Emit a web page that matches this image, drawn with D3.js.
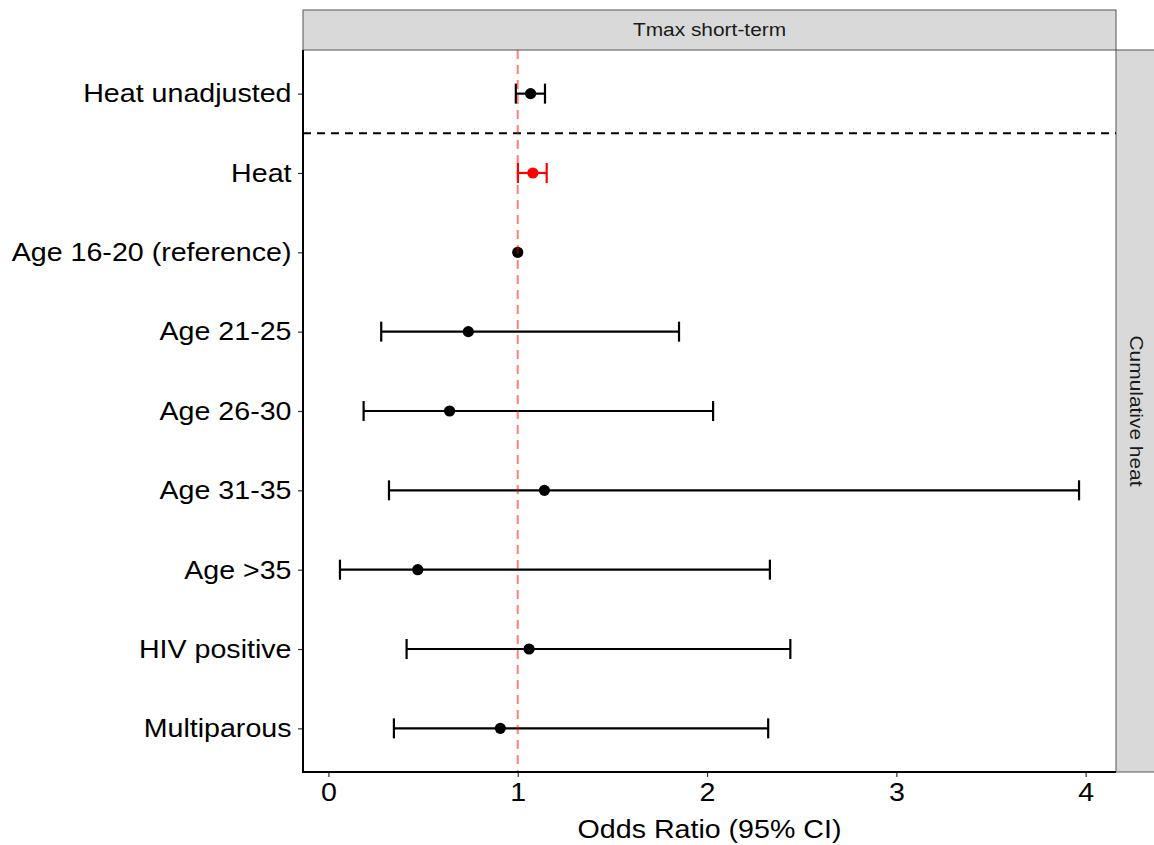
<!DOCTYPE html>
<html>
<head>
<meta charset="utf-8">
<script src="https://cdn.jsdelivr.net/npm/d3@7"></script>
<style>
  body { margin: 0; background: white; }
  svg { display: block; font-family: 'Liberation Sans', Arial, sans-serif; }
</style>
</head>
<body>
<svg width="1154" height="845"></svg>
<script>
// data
const categories = ['Heat unadjusted', 'Heat', 'Age 16-20 (reference)', 'Age 21-25',
  'Age 26-30', 'Age 31-35', 'Age >35', 'HIV positive', 'Multiparous']
const estimates = [1.068, 1.08, 1.0, 0.739, 0.640, 1.141, 0.472, 1.060, 0.908]
const lower = [0.99, 1.001, 1.0, 0.279, 0.186, 0.320, 0.061, 0.413, 0.346]
const upper = [1.144, 1.153, 1.0, 1.852, 2.032, 3.965, 2.332, 2.440, 2.323]
const highlight = ['Heat']
const xTicks = [0, 1, 2, 3, 4]
const refValue = 1
const stripTop = 'Tmax short-term'
const stripRight = 'Cumulative heat'
const xTitle = 'Odds Ratio (95% CI)'

const rows = categories.map((c, i) => ({
  cat: c, est: estimates[i], lo: lower[i], hi: upper[i]
}))

const svg = d3.select('svg')
const panel = { left: 303, right: 1116, top: 50, bottom: 772 }
const stretch = 'scale(1.1,1)' // the source text runs a bit wider than Arial

// ggplot-like 5% expansion
const lo = d3.min(lower), hi = d3.max(upper)
const pad = (hi - lo) * 0.05
const x = d3.scaleLinear()
  .domain([lo - pad, hi + pad])
  .range([panel.left, panel.right])

const y = d3.scalePoint()
  .domain(categories)
  .range([panel.top, panel.bottom])
  .padding(0.55)

// strips
svg.append('rect')
  .attr('x', panel.left).attr('y', 10)
  .attr('width', panel.right - panel.left).attr('height', panel.top - 10)
  .attr('fill', '#d9d9d9').attr('stroke', '#555').attr('stroke-width', 1)
svg.append('g')
  .attr('transform', `translate(${(panel.left + panel.right) / 2},31) ${stretch}`)
  .append('text')
  .attr('text-anchor', 'middle').attr('dominant-baseline', 'middle')
  .attr('font-size', 19).attr('fill', '#1a1a1a')
  .text(stripTop)

svg.append('rect')
  .attr('x', panel.right).attr('y', panel.top)
  .attr('width', 60).attr('height', panel.bottom - panel.top)
  .attr('fill', '#d9d9d9').attr('stroke', '#555').attr('stroke-width', 1)
svg.append('text')
  .attr('transform', `translate(1135,${(panel.top + panel.bottom) / 2}) rotate(90) ${stretch}`)
  .attr('text-anchor', 'middle').attr('dominant-baseline', 'middle')
  .attr('font-size', 19).attr('fill', '#1a1a1a')
  .text(stripRight)

// separator between unadjusted and adjusted rows
const sepY = (y(categories[0]) + y(categories[1])) / 2
svg.append('line')
  .attr('x1', panel.left).attr('x2', panel.right)
  .attr('y1', sepY).attr('y2', sepY)
  .attr('stroke', 'black').attr('stroke-width', 2)
  .attr('stroke-dasharray', '8,6')

// error bars
const colorOf = d => highlight.includes(d.cat) ? 'red' : 'black'
const capH = 10
const bars = svg.append('g').selectAll('g')
  .data(rows.filter(d => d.hi > d.lo))
  .join('g')
  .attr('stroke', colorOf).attr('stroke-width', 2.2)
bars.append('line')
  .attr('x1', d => x(d.lo)).attr('x2', d => x(d.hi))
  .attr('y1', d => y(d.cat)).attr('y2', d => y(d.cat))
bars.append('line')
  .attr('x1', d => x(d.lo)).attr('x2', d => x(d.lo))
  .attr('y1', d => y(d.cat) - capH).attr('y2', d => y(d.cat) + capH)
bars.append('line')
  .attr('x1', d => x(d.hi)).attr('x2', d => x(d.hi))
  .attr('y1', d => y(d.cat) - capH).attr('y2', d => y(d.cat) + capH)

svg.append('g').selectAll('circle')
  .data(rows)
  .join('circle')
  .attr('cx', d => x(d.est)).attr('cy', d => y(d.cat))
  .attr('r', 5.6).attr('fill', colorOf)

// reference line, drawn over the marks with transparency
svg.append('line')
  .attr('x1', x(refValue)).attr('x2', x(refValue))
  .attr('y1', panel.top).attr('y2', panel.bottom)
  .attr('stroke', 'red').attr('stroke-opacity', 0.5).attr('stroke-width', 2)
  .attr('stroke-dasharray', '9,6')

// axes
const xAxis = svg.append('g')
  .attr('transform', `translate(0,${panel.bottom})`)
  .call(d3.axisBottom(x).tickValues(xTicks).tickFormat(d3.format('d')).tickSize(5).tickPadding(6))
xAxis.select('.domain').remove()
xAxis.selectAll('line').attr('stroke', '#333').attr('stroke-width', 1.2)
xAxis.selectAll('text').attr('font-size', 26).attr('fill', 'black')
  .attr('font-family', "'Liberation Sans', Arial, sans-serif")
  .attr('transform', stretch)

const yAxis = svg.append('g')
  .attr('transform', `translate(${panel.left},0)`)
  .call(d3.axisLeft(y).tickSize(5).tickPadding(6))
yAxis.select('.domain').remove()
yAxis.selectAll('line').attr('stroke', '#333').attr('stroke-width', 1.2)
yAxis.selectAll('text').attr('font-size', 26).attr('fill', 'black')
  .attr('font-family', "'Liberation Sans', Arial, sans-serif")
  .attr('x', -11.5 / 1.1)
  .attr('transform', stretch)

// axis lines
svg.append('line')
  .attr('x1', panel.left).attr('x2', panel.left)
  .attr('y1', panel.top).attr('y2', panel.bottom + 1)
  .attr('stroke', 'black').attr('stroke-width', 2)
svg.append('line')
  .attr('x1', panel.left - 1).attr('x2', panel.right)
  .attr('y1', panel.bottom).attr('y2', panel.bottom)
  .attr('stroke', 'black').attr('stroke-width', 2)

svg.append('g')
  .attr('transform', `translate(${(panel.left + panel.right) / 2},838) ${stretch}`)
  .append('text')
  .attr('text-anchor', 'middle')
  .attr('font-size', 26).attr('fill', 'black')
  .text(xTitle)
</script>
</body>
</html>
